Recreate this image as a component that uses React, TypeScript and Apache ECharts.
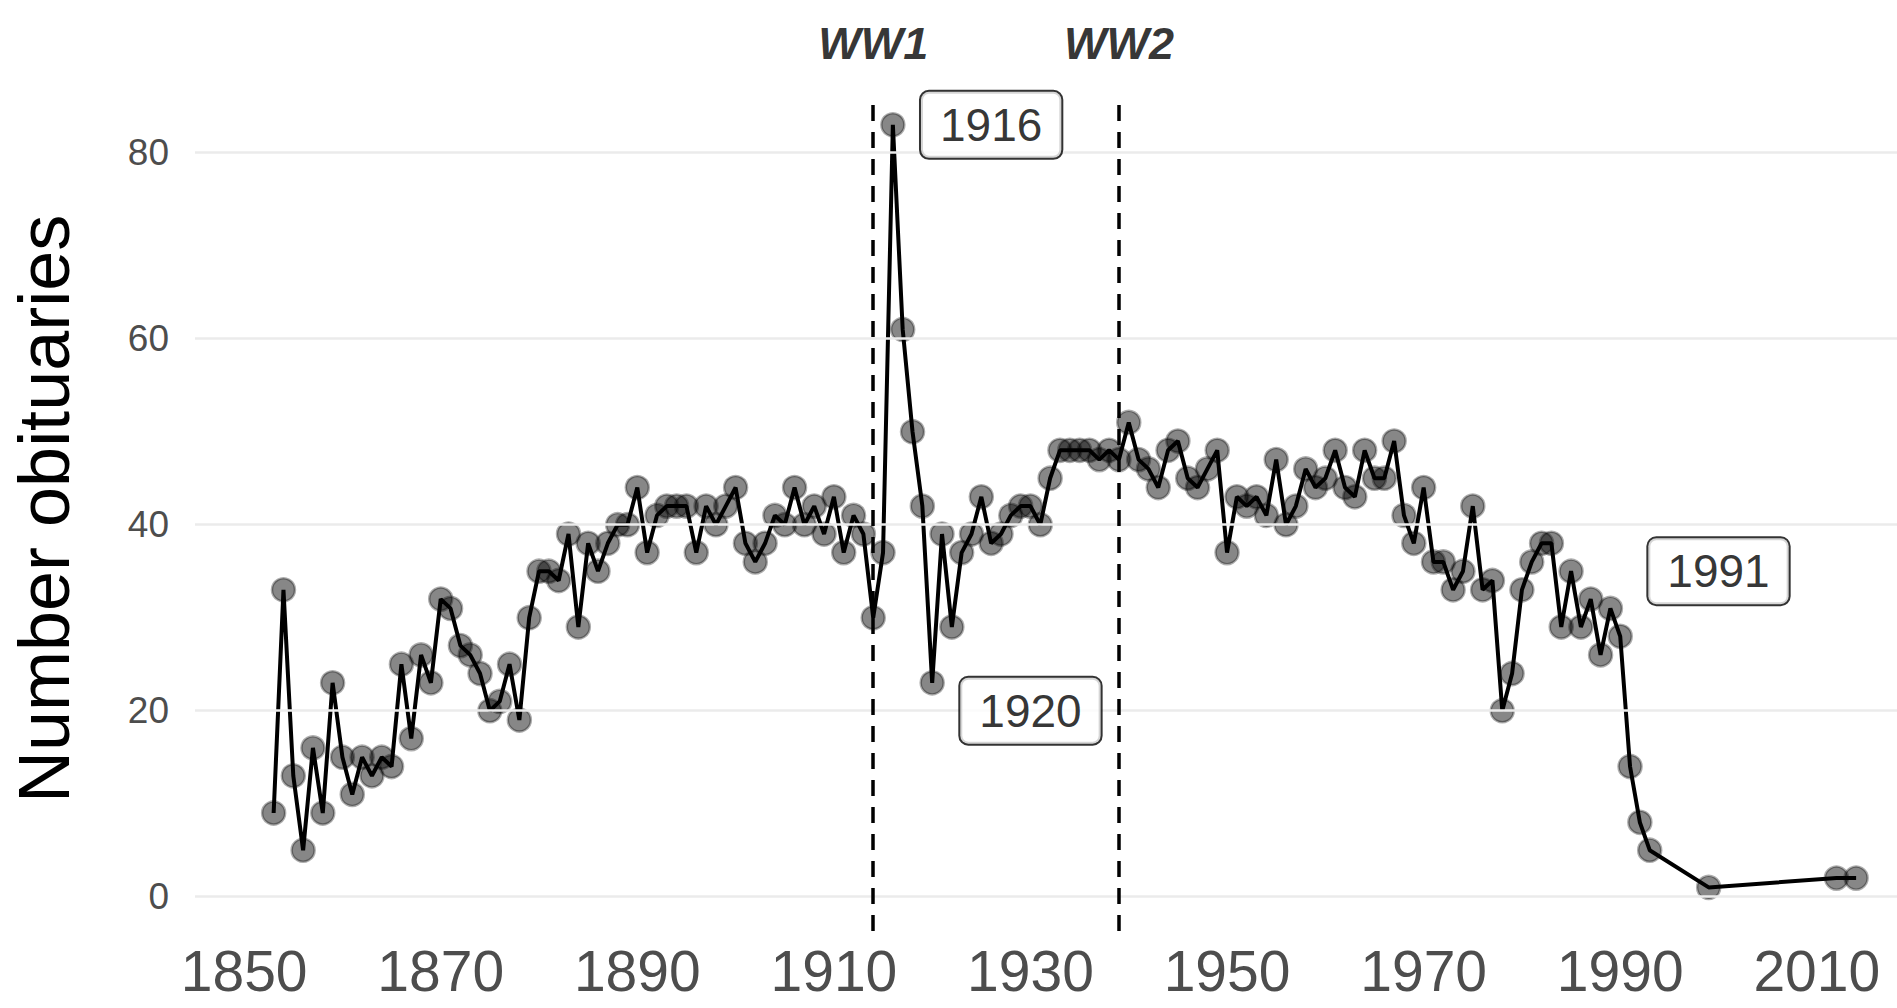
import React, { useEffect, useRef } from "react";
import * as echarts from "echarts";

const years = [
  1853, 1854, 1855, 1856, 1857, 1858, 1859, 1860, 1861, 1862, 1863, 1864, 1865, 1866, 1867, 1868, 1869,
  1870, 1871, 1872, 1873, 1874, 1875, 1876, 1877, 1878, 1879, 1880, 1881, 1882, 1883, 1884, 1885, 1886,
  1887, 1888, 1889, 1890, 1891, 1892, 1893, 1894, 1895, 1896, 1897, 1898, 1899, 1900, 1901, 1902, 1903,
  1904, 1905, 1906, 1907, 1908, 1909, 1910, 1911, 1912, 1913, 1914, 1915, 1916, 1917, 1918, 1919, 1920,
  1921, 1922, 1923, 1924, 1925, 1926, 1927, 1928, 1929, 1930, 1931, 1932, 1933, 1934, 1935, 1936, 1937,
  1938, 1939, 1940, 1941, 1942, 1943, 1944, 1945, 1946, 1947, 1948, 1949, 1950, 1951, 1952, 1953, 1954,
  1955, 1956, 1957, 1958, 1959, 1960, 1961, 1962, 1963, 1964, 1965, 1966, 1967, 1968, 1969, 1970, 1971,
  1972, 1973, 1974, 1975, 1976, 1977, 1978, 1979, 1980, 1981, 1982, 1983, 1984, 1985, 1986, 1987, 1988,
  1989, 1990, 1991, 1992, 1993, 1999, 2012, 2014,
];

const counts = [
  9, 33, 13, 5, 16, 9, 23, 15, 11, 15, 13, 15, 14, 25, 17, 26, 23,
  32, 31, 27, 26, 24, 20, 21, 25, 19, 30, 35, 35, 34, 39, 29, 38, 35,
  38, 40, 40, 44, 37, 41, 42, 42, 42, 37, 42, 40, 42, 44, 38, 36, 38,
  41, 40, 44, 40, 42, 39, 43, 37, 41, 39, 30, 37, 83, 61, 50, 42, 23,
  39, 29, 37, 39, 43, 38, 39, 41, 42, 42, 40, 45, 48, 48, 48, 48, 47,
  48, 47, 51, 47, 46, 44, 48, 49, 45, 44, 46, 48, 37, 43, 42, 43, 41,
  47, 40, 42, 46, 44, 45, 48, 44, 43, 48, 45, 45, 49, 41, 38, 44, 36,
  36, 33, 35, 42, 33, 34, 20, 24, 33, 36, 38, 38, 29, 35, 29, 32, 26,
  31, 28, 14, 8, 5, 1, 2, 2,
];

const xTicks = [1850, 1870, 1890, 1910, 1930, 1950, 1970, 1990, 2010];
const yTicks = [0, 20, 40, 60, 80];

const warYears = [1914, 1939];
const warNames = ["WW1", "WW2"];
const warLabelLevel = 91.7;
const warLineTop = 85.4;

const noteNames = ["1916", "1920", "1991"];
const noteYears = [1926, 1930, 2000];
const noteLevels = [83, 20, 35];

const Y_MIN = -3.7;
const FONT = '"Liberation Sans", Arial, Helvetica, sans-serif';

export default function App() {
  const ref = useRef<HTMLDivElement>(null);

  useEffect(() => {
    if (!ref.current) return;
    const chart = echarts.init(ref.current, null, { renderer: "svg" });
    const points = years.map((y, i) => [y, counts[i]]);

    chart.setOption({
      animation: false,
      backgroundColor: "#ffffff",
      textStyle: { fontFamily: FONT },
      grid: { left: 192.8, right: 0, top: 86.7, bottom: 1008 - 931.1, containLabel: false },
      xAxis: {
        type: "value",
        min: 1845,
        max: 2018.16,
        axisLine: { show: false },
        axisTick: { show: false },
        splitLine: { show: false },
        axisLabel: {
          customValues: xTicks,
          formatter: (v: number) => String(v),
          fontSize: 57,
          color: "#4d4d4d",
          margin: 11.5,
          fontFamily: FONT,
        },
      },
      yAxis: {
        type: "value",
        min: Y_MIN,
        max: 87.1,
        name: "Number obituaries",
        nameLocation: "middle",
        nameGap: 115,
        nameTextStyle: { fontSize: 72, color: "#000000", fontFamily: FONT },
        axisLine: { show: false },
        axisTick: { show: false },
        splitLine: { show: false },
        axisLabel: {
          customValues: yTicks,
          formatter: (v: number) => String(v),
          fontSize: 37,
          color: "#4d4d4d",
          margin: 26,
          fontFamily: FONT,
        },
      },
      series: [
        {
          type: "line",
          data: [],
          silent: true,
          z: 1,
          markLine: {
            silent: true,
            symbol: ["none", "none"],
            label: { show: false },
            lineStyle: { color: "#ebebeb", width: 2.5, type: "solid" },
            data: yTicks.map((v) => ({ yAxis: v })),
          },
        },
        {
          type: "scatter",
          data: points,
          symbol: "circle",
          symbolSize: 23,
          z: 2,
          itemStyle: {
            color: "rgba(0,0,0,0.47)",
            borderColor: "rgba(0,0,0,0.32)",
            borderWidth: 2.5,
            opacity: 1,
          },
        },
        {
          type: "line",
          data: points,
          showSymbol: false,
          symbol: "none",
          z: 3,
          lineStyle: { color: "#000000", width: 4 },
          markLine: {
            silent: true,
            symbol: ["none", "none"],
            label: { show: false },
            lineStyle: { color: "#000000", width: 3.5, type: [16, 11] },
            data: warYears.map((v) => [
              { coord: [v, Y_MIN] },
              { coord: [v, warLineTop] },
            ]),
          },
        },
        {
          type: "scatter",
          clip: false,
          silent: true,
          symbolSize: 1,
          z: 5,
          itemStyle: { color: "rgba(0,0,0,0)" },
          data: warYears.map((y, i) => ({ value: [y, warLabelLevel], name: warNames[i] })),
          label: {
            show: true,
            position: "inside",
            formatter: "{b}",
            fontSize: 45,
            fontWeight: "bold",
            fontStyle: "italic",
            color: "#000000",
            fontFamily: FONT,
          },
        },
        {
          type: "scatter",
          clip: false,
          silent: true,
          symbolSize: 1,
          z: 6,
          itemStyle: { color: "rgba(0,0,0,0)" },
          data: noteYears.map((y, i) => ({ value: [y, noteLevels[i]], name: noteNames[i] })),
          label: {
            show: true,
            position: "inside",
            formatter: "{b}",
            fontSize: 46,
            lineHeight: 46,
            color: "#000000",
            fontFamily: FONT,
            backgroundColor: "#ffffff",
            borderColor: "#000000",
            borderWidth: 2,
            borderRadius: 8,
            padding: [10, 19, 10, 19],
          },
        },
      ],
    });

    return () => chart.dispose();
  }, []);

  return (
    <div
      ref={ref}
      style={{ position: "fixed", left: 0, top: 0, width: 1897, height: 1008, background: "#fff" }}
    />
  );
}
